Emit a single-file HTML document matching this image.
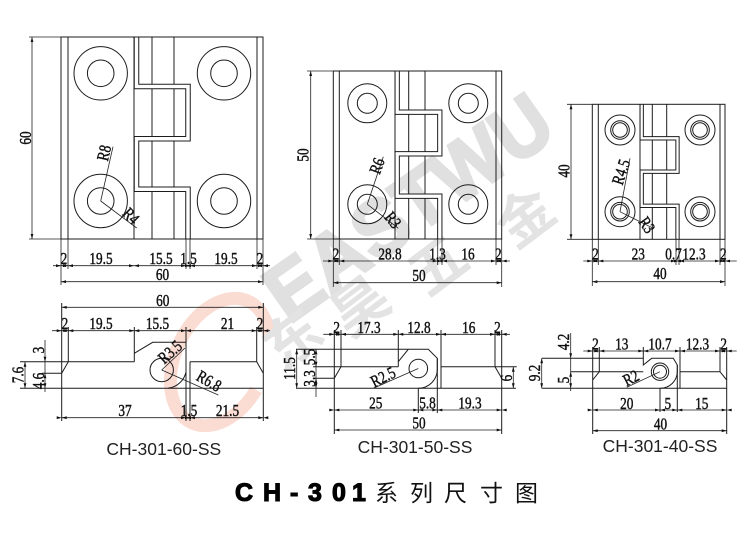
<!DOCTYPE html>
<html><head><meta charset="utf-8"><style>
html,body{margin:0;padding:0;background:#fff;}
svg{display:block}
.l{stroke:#1c1c1c;stroke-width:1;fill:none}
.d{stroke:#222;stroke-width:.8;fill:none}
.t{font-family:"Liberation Serif",serif;font-size:17px;fill:#111;stroke:#111;stroke-width:.45;text-anchor:middle}
.lab{font-family:"Liberation Sans",sans-serif;font-size:17.5px;fill:#222;text-anchor:middle}
</style></head><body>
<svg width="750" height="559" viewBox="0 0 750 559" xmlns="http://www.w3.org/2000/svg" xmlns:xlink="http://www.w3.org/1999/xlink">
<defs>
<path id="ar" d="M-5,-1.4L0,0L-5,1.4ZM5,-1.4L0,0L5,1.4Z" fill="#111"/>
<path id="a1" d="M0,0L-5,-1.4L-5,1.4Z" fill="#111"/>
</defs>

<!-- watermark -->
<ellipse cx="220" cy="362" rx="45" ry="67" transform="rotate(25 220 362)" fill="none" stroke="#fadcd3" stroke-width="13" stroke-dasharray="300 80" stroke-dashoffset="-10"/>
<text transform="translate(424,230) rotate(-35)" text-anchor="middle" textLength="330" lengthAdjust="spacingAndGlyphs" style="font-family:'Liberation Sans',sans-serif;font-weight:bold;font-size:80px;fill:#e0e0e0;stroke:#e0e0e0;stroke-width:3">EASTWU</text>
<g style="font-family:'Noto Sans CJK SC',sans-serif;font-weight:bold;font-size:56px;fill:#e3e3e3" text-anchor="middle">
<text transform="translate(305,355) rotate(-37)">东</text>
<text transform="translate(372,322) rotate(-37)">昊</text>
<text transform="translate(450,281) rotate(-37)">五</text>
<text transform="translate(537,233) rotate(-37)">金</text>
</g>

<!-- ============ TOP LEFT (60) ============ -->
<g class="l">
<path d="M152,37V239M174,37V239M134,37V239"/>
</g>
<polyline points="136.5,37 136.5,86.5 188,86.5 188,138.7 136.5,138.7 136.5,189.2 188,189.2 188,239" fill="none" stroke="#1c1c1c" stroke-width="5.5" stroke-linejoin="miter"/>
<polyline points="136.5,37 136.5,86.5 188,86.5 188,138.7 136.5,138.7 136.5,189.2 188,189.2 188,240" fill="none" stroke="#fff" stroke-width="3.5" stroke-linejoin="miter"/>
<g class="l">
<rect x="61" y="37" width="202" height="202"/>
<path d="M68,37V239M257,37V239"/>
<circle cx="100.7" cy="73.3" r="26.7"/><circle cx="100.7" cy="73.3" r="13.3"/>
<circle cx="224" cy="73.3" r="26.7"/><circle cx="224" cy="73.3" r="13.3"/>
<circle cx="100.7" cy="201" r="26.7"/><circle cx="100.7" cy="201" r="13.3"/>
<circle cx="224" cy="201" r="26.7"/><circle cx="224" cy="201" r="13.3"/>
</g>
<g class="d">
<path d="M100.7,201L113,146.7M100.7,201L136.7,228"/>
<path d="M29,37H61M29,239H61M32,37V239"/>
<path d="M61,239V285M263,239V285M68,239V269M186,239V269M190,239V269M257,239V269"/>
<path d="M53,265.7H270M61,281.7H263"/>
</g>
<use xlink:href="#a1" transform="translate(32,37) rotate(-90)"/>
<use xlink:href="#a1" transform="translate(32,239) rotate(90)"/>
<use xlink:href="#ar" x="61" y="265.7"/><use xlink:href="#ar" x="68" y="265.7"/><use xlink:href="#ar" x="134" y="265.7"/><use xlink:href="#ar" x="186" y="265.7"/><use xlink:href="#ar" x="190" y="265.7"/><use xlink:href="#ar" x="257" y="265.7"/><use xlink:href="#ar" x="263" y="265.7"/>
<use xlink:href="#a1" transform="translate(61,281.7) rotate(180)"/><use xlink:href="#a1" transform="translate(263,281.7)"/>
<g class="t">
<text transform="translate(31,138) rotate(-90) scale(.78,1)">60</text>
<text transform="translate(104,153) rotate(-77) scale(.78,1)" dy=".33em">R8</text>
<text transform="translate(131,216) rotate(45) scale(.78,1)" dy=".33em">R4</text>
<text transform="translate(64,264) scale(.78,1)">2</text>
<text transform="translate(101,264) scale(.78,1)">19.5</text>
<text transform="translate(161,264) scale(.78,1)">15.5</text>
<text transform="translate(188.5,264) scale(.78,1)">1.5</text>
<text transform="translate(226,264) scale(.78,1)">19.5</text>
<text transform="translate(260,264) scale(.78,1)">2</text>
<text transform="translate(162.5,280) scale(.78,1)">60</text>
</g>

<!-- ============ TOP MIDDLE (50) ============ -->
<g class="l"><path d="M395,71V239M408.7,71V239M425,71V239"/></g>
<polyline points="397.2,71 397.2,112.2 439.8,112.2 439.8,153.8 397.2,153.8 397.2,196.2 439.8,196.2 439.8,239" fill="none" stroke="#1c1c1c" stroke-width="5.3"/>
<polyline points="397.2,71 397.2,112.2 439.8,112.2 439.8,153.8 397.2,153.8 397.2,196.2 439.8,196.2 439.8,240" fill="none" stroke="#fff" stroke-width="3.3"/>
<g class="l">
<rect x="333.3" y="71" width="168.4" height="168"/>
<path d="M339.3,71V239M496,71V239"/>
<circle cx="367.3" cy="103.3" r="19.5"/><circle cx="367.3" cy="103.3" r="10"/>
<circle cx="468.3" cy="103.3" r="19.5"/><circle cx="468.3" cy="103.3" r="10"/>
<circle cx="367.3" cy="204.3" r="19.5"/><circle cx="367.3" cy="204.3" r="10"/>
<circle cx="468.3" cy="204.3" r="19.5"/><circle cx="468.3" cy="204.3" r="10"/>
</g>
<g class="d">
<path d="M367.3,204.3L383.3,156.7M367.3,204.3L398.3,228.3"/>
<path d="M307,71H333.3M307,239H333.3M310.7,71V239"/>
<path d="M333.3,239V287M501.7,239V287M339.3,239V265M437.7,239V265M442,239V265M496,239V265"/>
<path d="M323,261H510M333.3,282.7H501.7"/>
</g>
<use xlink:href="#a1" transform="translate(310.7,71) rotate(-90)"/>
<use xlink:href="#a1" transform="translate(310.7,239) rotate(90)"/>
<use xlink:href="#ar" x="333.3" y="261"/><use xlink:href="#ar" x="339.3" y="261"/><use xlink:href="#ar" x="437.7" y="261"/><use xlink:href="#ar" x="442" y="261"/><use xlink:href="#ar" x="496" y="261"/><use xlink:href="#ar" x="501.7" y="261"/>
<use xlink:href="#a1" transform="translate(333.3,282.7) rotate(180)"/><use xlink:href="#a1" transform="translate(501.7,282.7)"/>
<g class="t">
<text transform="translate(308.5,155) rotate(-90) scale(.78,1)">50</text>
<text transform="translate(377,166) rotate(-70) scale(.78,1)" dy=".33em">R6</text>
<text transform="translate(393,220) rotate(50) scale(.78,1)" dy=".33em">R3</text>
<text transform="translate(336,259.5) scale(.78,1)">2</text>
<text transform="translate(390,259.5) scale(.78,1)">28.8</text>
<text transform="translate(437.5,259.5) scale(.78,1)">1.3</text>
<text transform="translate(468,259.5) scale(.78,1)">16</text>
<text transform="translate(498.3,259.5) scale(.78,1)">2</text>
<text transform="translate(419,281) scale(.78,1)">50</text>
</g>

<!-- ============ TOP RIGHT (40) ============ -->
<g class="l"><path d="M640,104.3V239.3M652.3,104.3V239.3M666.7,104.3V239.3"/></g>
<polyline points="641.7,104.3 641.7,138.3 677.5,138.3 677.5,171.7 641.7,171.7 641.7,205.8 677.5,205.8 677.5,239.3" fill="none" stroke="#1c1c1c" stroke-width="4.3"/>
<polyline points="641.7,104.3 641.7,138.3 677.5,138.3 677.5,171.7 641.7,171.7 641.7,205.8 677.5,205.8 677.5,240" fill="none" stroke="#fff" stroke-width="2.3"/>
<g class="l">
<rect x="592.3" y="104.3" width="132.7" height="135"/>
<path d="M598.3,104.3V239.3M720,104.3V239.3"/>
<circle cx="620" cy="130" r="15"/><circle cx="620" cy="130" r="9.3"/><circle cx="620" cy="130" r="7.3"/>
<circle cx="700" cy="130" r="15"/><circle cx="700" cy="130" r="9.3"/><circle cx="700" cy="130" r="7.3"/>
<circle cx="620" cy="211.7" r="15"/><circle cx="620" cy="211.7" r="9.3"/><circle cx="620" cy="211.7" r="7.3"/>
<circle cx="700" cy="211.7" r="15"/><circle cx="700" cy="211.7" r="9.3"/><circle cx="700" cy="211.7" r="7.3"/>
</g>
<g class="d">
<path d="M620,211.7L630,158.3M620,211.7L653.3,228.3"/>
<path d="M567,104.3H592.3M567,239.3H592.3M571,104.3V239.3"/>
<path d="M592.3,239.3V286M725,239.3V286M598.3,239.3V265M676,239.3V265M679,239.3V265M720,239.3V265"/>
<path d="M583.3,261H736.7M592.3,281.7H725"/>
</g>
<use xlink:href="#a1" transform="translate(571,104.3) rotate(-90)"/>
<use xlink:href="#a1" transform="translate(571,239.3) rotate(90)"/>
<use xlink:href="#ar" x="592.3" y="261"/><use xlink:href="#ar" x="598.3" y="261"/><use xlink:href="#ar" x="676" y="261"/><use xlink:href="#ar" x="679" y="261"/><use xlink:href="#ar" x="720" y="261"/><use xlink:href="#ar" x="725" y="261"/>
<use xlink:href="#a1" transform="translate(592.3,281.7) rotate(180)"/><use xlink:href="#a1" transform="translate(725,281.7)"/>
<g class="t">
<text transform="translate(569.5,171) rotate(-90) scale(.78,1)">40</text>
<text transform="translate(621,172) rotate(-72) scale(.78,1)" dy=".33em">R4.5</text>
<text transform="translate(647,225) rotate(55) scale(.78,1)" dy=".33em">R3</text>
<text transform="translate(595.5,259.5) scale(.78,1)">2</text>
<text transform="translate(638.3,259.5) scale(.78,1)">23</text>
<text transform="translate(673.5,259.5) scale(.78,1)">0.7</text>
<text transform="translate(694,259.5) scale(.78,1)">12.3</text>
<text transform="translate(723.3,259.5) scale(.78,1)">2</text>
<text transform="translate(660,279) scale(.78,1)">40</text>
</g>

<!-- ============ BOTTOM LEFT (60 side) ============ -->
<g class="l">
<path d="M68.3,327V361.7L61.7,373.3"/>
<path d="M20,361.7H134.3M42,373.3H61.7M20,388.3H263.3"/>
<path d="M134.3,327V361.7M134.3,353.3L152.7,342.3H186"/>
<path d="M186,327V421M190,361.7V421M190,361.7H256.7L263.3,373.3M256.7,327V361.7"/>
<path d="M61.7,303V421M263.3,303V421"/>
<circle cx="161.7" cy="370" r="11.7"/>
<path d="M168,388.3A21 21 0 0 0 186,372"/>
</g>
<g class="d">
<path d="M161.7,370L185,348M161.7,370L218.3,395"/>
<path d="M61.7,307.3H263.3M52,330.7H270M61.7,417.7H263.3"/>
<path d="M25,361.7V388.3M45,340V392"/>
</g>
<use xlink:href="#a1" transform="translate(61.7,307.3) rotate(180)"/><use xlink:href="#a1" transform="translate(263.3,307.3)"/>
<use xlink:href="#ar" x="61.7" y="330.7"/><use xlink:href="#ar" x="68.3" y="330.7"/><use xlink:href="#ar" x="134.3" y="330.7"/><use xlink:href="#ar" x="186" y="330.7"/><use xlink:href="#ar" x="256.7" y="330.7"/><use xlink:href="#ar" x="263.3" y="330.7"/>
<use xlink:href="#ar" x="61.7" y="417.7"/><use xlink:href="#ar" x="186" y="417.7"/><use xlink:href="#ar" x="190" y="417.7"/><use xlink:href="#ar" x="263.3" y="417.7"/>
<use xlink:href="#a1" transform="translate(25,361.7) rotate(-90)"/><use xlink:href="#a1" transform="translate(25,388.3) rotate(90)"/>
<use xlink:href="#a1" transform="translate(45,361.7) rotate(90)"/><use xlink:href="#a1" transform="translate(45,373.3) rotate(-90)"/><use xlink:href="#a1" transform="translate(45,388.3) rotate(90)"/>
<g class="t">
<text transform="translate(162.7,306) scale(.78,1)">60</text>
<text transform="translate(65,329) scale(.78,1)">2</text>
<text transform="translate(101,329) scale(.78,1)">19.5</text>
<text transform="translate(157.5,329) scale(.78,1)">15.5</text>
<text transform="translate(227.5,329) scale(.78,1)">21</text>
<text transform="translate(260,329) scale(.78,1)">2</text>
<text transform="translate(125,416) scale(.78,1)">37</text>
<text transform="translate(189,416) scale(.78,1)">1.5</text>
<text transform="translate(227.5,416) scale(.78,1)">21.5</text>
<text transform="translate(23.5,375) rotate(-90) scale(.78,1)">7.6</text>
<text transform="translate(44,350) rotate(-90) scale(.78,1)">3</text>
<text transform="translate(44,381) rotate(-90) scale(.78,1)">4.6</text>
<text transform="translate(170,352) rotate(-42) scale(.78,1)" dy=".33em">R3.5</text>
<text transform="translate(209,381) rotate(30) scale(.78,1)" dy=".33em">R6.8</text>
</g>
<text class="lab" x="163.8" y="455">CH-301-60-SS</text>

<!-- ============ BOTTOM MIDDLE (50 side) ============ -->
<g class="l">
<path d="M334.3,330V434M341,330V366.7L334.3,378.3"/>
<path d="M313,366.7H398.3M313,378.3H334.3M296,349.3H408.3M296,388.3H516"/>
<path d="M398.3,330V366.7M398.3,361.7L408.3,349.3H428.3L437.3,358.3V369.3A19 19 0 0 1 418.3,388.3"/>
<path d="M437.3,358.3V413M441,330V388.3M418.3,388.3V413"/>
<path d="M441,366.7H516.7M495,366.7L501.7,378.3M495,330V366.7M501.7,330V434"/>
<circle cx="418.3" cy="368.5" r="9.3"/>
</g>
<g class="d">
<path d="M418.3,368.5L373.3,388.3"/>
<path d="M323.3,334.3H510M334.3,410H501.7M334.3,430H501.7"/>
<path d="M296.7,349.3V388.3M316,349.3V397M513.3,366.7V388.3"/>
</g>
<use xlink:href="#ar" x="334.3" y="334.3"/><use xlink:href="#ar" x="341" y="334.3"/><use xlink:href="#ar" x="398.3" y="334.3"/><use xlink:href="#ar" x="441" y="334.3"/><use xlink:href="#ar" x="495" y="334.3"/><use xlink:href="#ar" x="501.7" y="334.3"/>
<use xlink:href="#ar" x="334.3" y="410"/><use xlink:href="#ar" x="418.3" y="410"/><use xlink:href="#ar" x="437.3" y="410"/><use xlink:href="#ar" x="501.7" y="410"/>
<use xlink:href="#a1" transform="translate(334.3,430) rotate(180)"/><use xlink:href="#a1" transform="translate(501.7,430)"/>
<use xlink:href="#a1" transform="translate(296.7,349.3) rotate(-90)"/><use xlink:href="#a1" transform="translate(296.7,388.3) rotate(90)"/>
<use xlink:href="#a1" transform="translate(316,349.3) rotate(-90)"/><use xlink:href="#a1" transform="translate(316,366.7) rotate(90)"/><use xlink:href="#a1" transform="translate(316,378.3) rotate(-90)"/><use xlink:href="#a1" transform="translate(316,388.3) rotate(90)"/>
<use xlink:href="#a1" transform="translate(513.3,366.7) rotate(-90)"/><use xlink:href="#a1" transform="translate(513.3,388.3) rotate(90)"/>
<g class="t">
<text transform="translate(336.7,333) scale(.78,1)">2</text>
<text transform="translate(369,333) scale(.78,1)">17.3</text>
<text transform="translate(419,333) scale(.78,1)">12.8</text>
<text transform="translate(468.8,333) scale(.78,1)">16</text>
<text transform="translate(497.5,333) scale(.78,1)">2</text>
<text transform="translate(375.8,408.3) scale(.78,1)">25</text>
<text transform="translate(427.5,408.3) scale(.78,1)">5.8</text>
<text transform="translate(470,408.3) scale(.78,1)">19.3</text>
<text transform="translate(419,428.3) scale(.78,1)">50</text>
<text transform="translate(295,368.5) rotate(-90) scale(.78,1)">11.5</text>
<text transform="translate(315,357) rotate(-90) scale(.78,1)">5.5</text>
<text transform="translate(315,378.5) rotate(-90) scale(.78,1)">3.3</text>
<text transform="translate(512,378) rotate(-90) scale(.78,1)">6</text>
<text transform="translate(383,377) rotate(-27) scale(.78,1)" dy=".33em">R2.5</text>
</g>
<text class="lab" x="415" y="453">CH-301-50-SS</text>

<!-- ============ BOTTOM RIGHT (40 side) ============ -->
<g class="l">
<path d="M592.7,347V434M599.3,347V371.7L592.7,380"/>
<path d="M570.7,371.7H643.3M541.7,358.3H643.3M541.7,388.3H726.7"/>
<path d="M643.3,347V365L651.7,358.3H673.3L677.3,365V371.7A17 17 0 0 1 660.3,388.3"/>
<path d="M677.3,365V412M680,347V388.3M660,388.3V412"/>
<path d="M680,371.7H720L726.7,380M720,347V371.7M726.7,347V434"/>
<circle cx="660" cy="371.7" r="8.7"/><circle cx="660" cy="371.7" r="6.5"/>
</g>
<g class="d">
<path d="M660,371.7L626.7,387.3"/>
<path d="M583.3,351H736.7M592.7,410H726.7M592.7,430.7H726.7"/>
<path d="M541.7,358.3V388.3M570.7,333V391"/>
</g>
<use xlink:href="#ar" x="592.7" y="351"/><use xlink:href="#ar" x="599.3" y="351"/><use xlink:href="#ar" x="643.3" y="351"/><use xlink:href="#ar" x="680" y="351"/><use xlink:href="#ar" x="720" y="351"/><use xlink:href="#ar" x="726.7" y="351"/>
<use xlink:href="#ar" x="592.7" y="410"/><use xlink:href="#ar" x="660" y="410"/><use xlink:href="#ar" x="677.3" y="410"/><use xlink:href="#ar" x="726.7" y="410"/>
<use xlink:href="#a1" transform="translate(592.7,430.7) rotate(180)"/><use xlink:href="#a1" transform="translate(726.7,430.7)"/>
<use xlink:href="#a1" transform="translate(541.7,358.3) rotate(-90)"/><use xlink:href="#a1" transform="translate(541.7,388.3) rotate(90)"/>
<use xlink:href="#a1" transform="translate(570.7,358.3) rotate(90)"/><use xlink:href="#a1" transform="translate(570.7,371.7) rotate(-90)"/><use xlink:href="#a1" transform="translate(570.7,388.3) rotate(90)"/>
<g class="t">
<text transform="translate(595.5,349.5) scale(.78,1)">2</text>
<text transform="translate(621.7,349.5) scale(.78,1)">13</text>
<text transform="translate(660,349.5) scale(.78,1)">10.7</text>
<text transform="translate(697.5,349.5) scale(.78,1)">12.3</text>
<text transform="translate(723.7,349.5) scale(.78,1)">2</text>
<text transform="translate(626.7,409) scale(.78,1)">20</text>
<text transform="translate(667.8,409) scale(.78,1)">5</text>
<text transform="translate(701.7,409) scale(.78,1)">15</text>
<text transform="translate(660.5,429.5) scale(.78,1)">40</text>
<text transform="translate(540,373) rotate(-90) scale(.78,1)">9.2</text>
<text transform="translate(569,342) rotate(-90) scale(.78,1)">4.2</text>
<text transform="translate(569,380) rotate(-90) scale(.78,1)">5</text>
<text transform="translate(631,378) rotate(-27) scale(.78,1)" dy=".33em">R2</text>
</g>
<text class="lab" x="660" y="452">CH-301-40-SS</text>

<!-- ============ TITLE ============ -->
<g style="font-family:'Liberation Sans',sans-serif;font-weight:bold;font-size:25px;fill:#000;stroke:#000;stroke-width:1.1">
<text x="235" y="501">C</text>
<text x="263" y="501">H</text>
<text x="290" y="501">-</text>
<text x="308" y="501">3</text>
<text x="332" y="501">0</text>
<text x="352" y="501">1</text>
</g>
<g style="font-family:'Liberation Sans','Noto Sans CJK SC',sans-serif;font-size:23px;fill:#111">
<text x="375" y="501">系</text>
<text x="410" y="501">列</text>
<text x="444" y="501">尺</text>
<text x="480" y="501">寸</text>
<text x="515" y="501">图</text>
</g>
</svg>
</body></html>
